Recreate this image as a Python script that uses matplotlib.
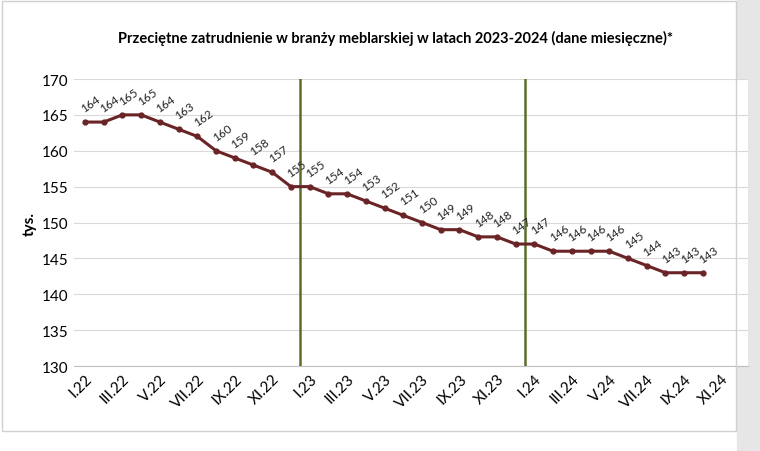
import matplotlib
matplotlib.use("Agg")
import matplotlib.pyplot as plt
from matplotlib.patches import Rectangle

plt.rcParams['font.family'] = ['Lato', 'DejaVu Sans']

values = [164,164,165,165,164,163,162,160,159,158,157,155,
          155,154,154,153,152,151,150,149,149,148,148,147,
          147,146,146,146,146,145,144,143,143,143]
roman = ["I","II","III","IV","V","VI","VII","VIII","IX","X","XI","XII"]
years = ["22","23","24"]
months = [f"{r}.{y}" for y in years for r in roman]
tick_labels = months[::2]
year_breaks = [11.5, 23.5]
title = "Przeciętne zatrudnienie w branży meblarskiej w latach 2023-2024 (dane miesięczne)*"

fig = plt.figure(figsize=(7.6, 4.52), dpi=100)
fig.patches.append(Rectangle((0.97, 0), 0.03, 1, transform=fig.transFigure, color="#e6e6e6", zorder=-2))
fig.patches.append(Rectangle((0.003, 0.045), 0.965, 0.95, transform=fig.transFigure,
                             fill=False, edgecolor="#d0d0d0", lw=1))
ax = fig.add_axes([0.097, 0.188, 0.887, 0.635])
x = list(range(len(values)))
ax.plot(x, values, color="#6b2426", lw=2.2, marker="o", ms=3.5, zorder=3)
for xi, v in zip(x, values):
    ax.annotate(str(v), (xi, v), xytext=(-4, 6), textcoords="offset points",
                rotation=35, fontsize=8.5, ha="left", va="bottom", color="#222")
for b in year_breaks:
    ax.axvline(b, color="#5a6e2a", lw=1.8, zorder=2)
ax.set_ylim(130, 170)
ax.set_yticks(range(130, 171, 5))
ax.set_xlim(-0.6, 35.4)
ax.set_xticks(range(0, 36, 2))
ax.set_xticklabels(tick_labels, rotation=45, ha="right", rotation_mode="anchor", fontsize=11)
ax.tick_params(axis="y", labelsize=11, length=0)
ax.tick_params(axis="x", length=0, pad=4)
ax.grid(axis="y", color="#d9d9d9", lw=0.8)
ax.set_axisbelow(True)
for s in ["top", "right", "left"]:
    ax.spines[s].set_visible(False)
ax.spines["bottom"].set_color("#bfbfbf")
ax.set_ylabel("tys.", fontsize=11, fontweight="bold")
fig.text(0.52, 0.905, title, ha="center", fontsize=10.5, fontweight="bold")
fig.savefig("out.png", dpi=100)
